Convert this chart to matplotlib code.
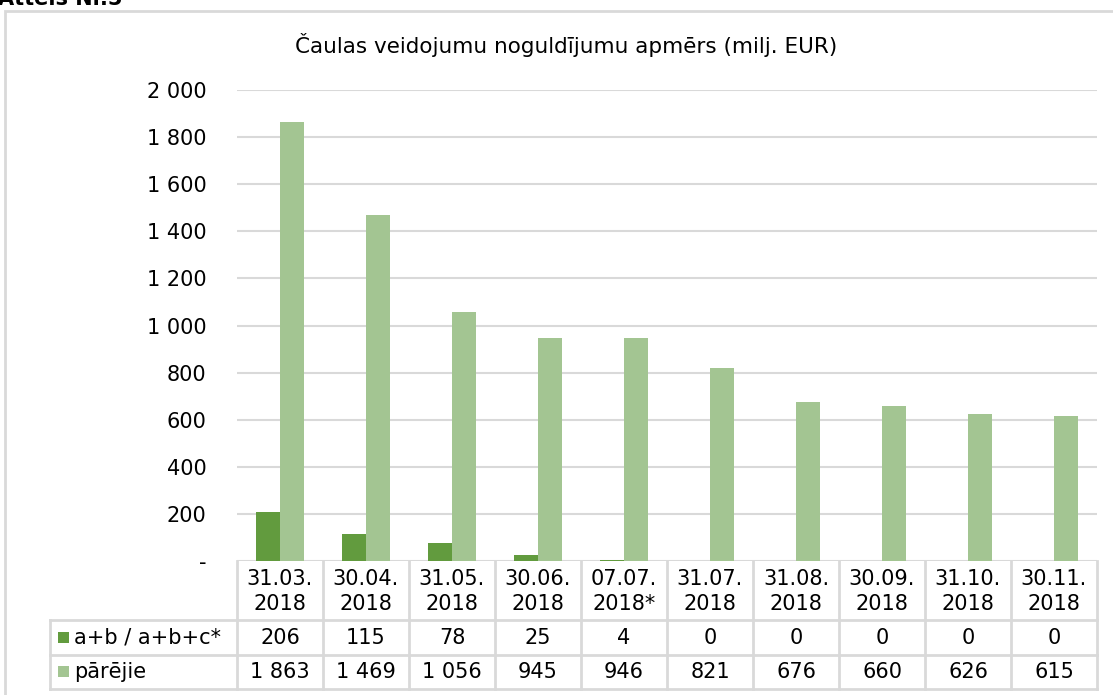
import matplotlib
matplotlib.use("Agg")
import matplotlib.pyplot as plt
from matplotlib.patches import Rectangle
from matplotlib.lines import Line2D
import numpy as np

# Data
dates = ["31.03.\n2018", "30.04.\n2018", "31.05.\n2018", "30.06.\n2018", "07.07.\n2018*",
         "31.07.\n2018", "31.08.\n2018", "30.09.\n2018", "31.10.\n2018", "30.11.\n2018"]
abc_values = [206, 115, 78, 25, 4, 0, 0, 0, 0, 0]
other_values = [1863, 1469, 1056, 945, 946, 821, 676, 660, 626, 615]
series_names = ["a+b / a+b+c*", "pārējie"]
yticks = list(range(0, 2001, 200))

DARK = "#629b3e"
LIGHT = "#a3c592"
GRID = "#d9d9d9"
FS = 15

W, H = 1113, 695
plt.rcParams["font.family"] = ["DejaVu Sans"]
fig = plt.figure(figsize=(W / 100, H / 100), dpi=100)


def fx(px):
    return px / W


def fy(py):
    return 1 - py / H


# plot area
ax = fig.add_axes([fx(237), fy(561), (1097 - 237) / W, (561 - 90) / H])
x = np.arange(len(dates))
bw = 0.28
ax.bar(x - bw / 2, abc_values, bw, color=DARK, zorder=3)
ax.bar(x + bw / 2, other_values, bw, color=LIGHT, zorder=3)
ax.set_xlim(-0.5, len(dates) - 0.5)
ax.set_ylim(0, 2000)
ax.set_yticks(yticks)
ax.set_yticklabels(["-" if v == 0 else f"{v:,}".replace(",", " ") for v in yticks], fontsize=FS)
ax.tick_params(axis="y", length=0, pad=22)
ax.set_xticks([])
ax.grid(axis="y", color=GRID, linewidth=1.5, zorder=0)
for s in ax.spines.values():
    s.set_visible(False)

# outer frame and caption
fig.add_artist(Rectangle((fx(5), fy(700)), 1.2, fy(11) - fy(700), transform=fig.transFigure,
                         fill=False, edgecolor=GRID, linewidth=2))
fig.text(fx(-2), fy(5), "Attēls Nr.5", fontsize=15, fontweight="bold", va="baseline", ha="left")
fig.text(fx(566), fy(45), "Čaulas veidojumu noguldījumu apmērs (milj. EUR)", fontsize=15.5,
         ha="center", va="center")


# data table below the axes
def ay(py):
    # pixel y -> axes fraction
    return (561 - py) / (561 - 90)


blend = ax.get_xaxis_transform()
row_top, row1, row2, row_bot = 561, 620, 655, 689
lw = 2
for i in range(len(dates) + 1):
    ax.add_line(Line2D([i - 0.5, i - 0.5], [ay(row_top), ay(row_bot)], transform=blend,
                       color=GRID, lw=lw, clip_on=False))
for py in (row1, row2, row_bot):
    fig.add_artist(Line2D([fx(50), fx(1097)], [fy(py), fy(py)], transform=fig.transFigure,
                          color=GRID, lw=lw))
fig.add_artist(Line2D([fx(50), fx(50)], [fy(row1), fy(row_bot)], transform=fig.transFigure,
                      color=GRID, lw=lw))

for i, d in enumerate(dates):
    ax.text(i, ay((row_top + row1) / 2 + 1), d, transform=blend, ha="center", va="center",
            fontsize=FS, linespacing=1.3, clip_on=False)
    ax.text(i, ay((row1 + row2) / 2), f"{abc_values[i]:,}".replace(",", " "), transform=blend,
            ha="center", va="center", fontsize=FS, clip_on=False)
    ax.text(i, ay((row2 + row_bot) / 2), f"{other_values[i]:,}".replace(",", " "), transform=blend,
            ha="center", va="center", fontsize=FS, clip_on=False)

for name, col, (t, b) in zip(series_names, [DARK, LIGHT], [(row1, row2), (row2, row_bot)]):
    cy = (t + b) / 2
    fig.add_artist(Rectangle((fx(58), fy(cy + 5)), 11 / W, 11 / H, transform=fig.transFigure,
                             color=col, linewidth=0))
    fig.text(fx(74), fy(cy), name, fontsize=FS, va="center", ha="left")

fig.savefig("out.png", dpi=100)
